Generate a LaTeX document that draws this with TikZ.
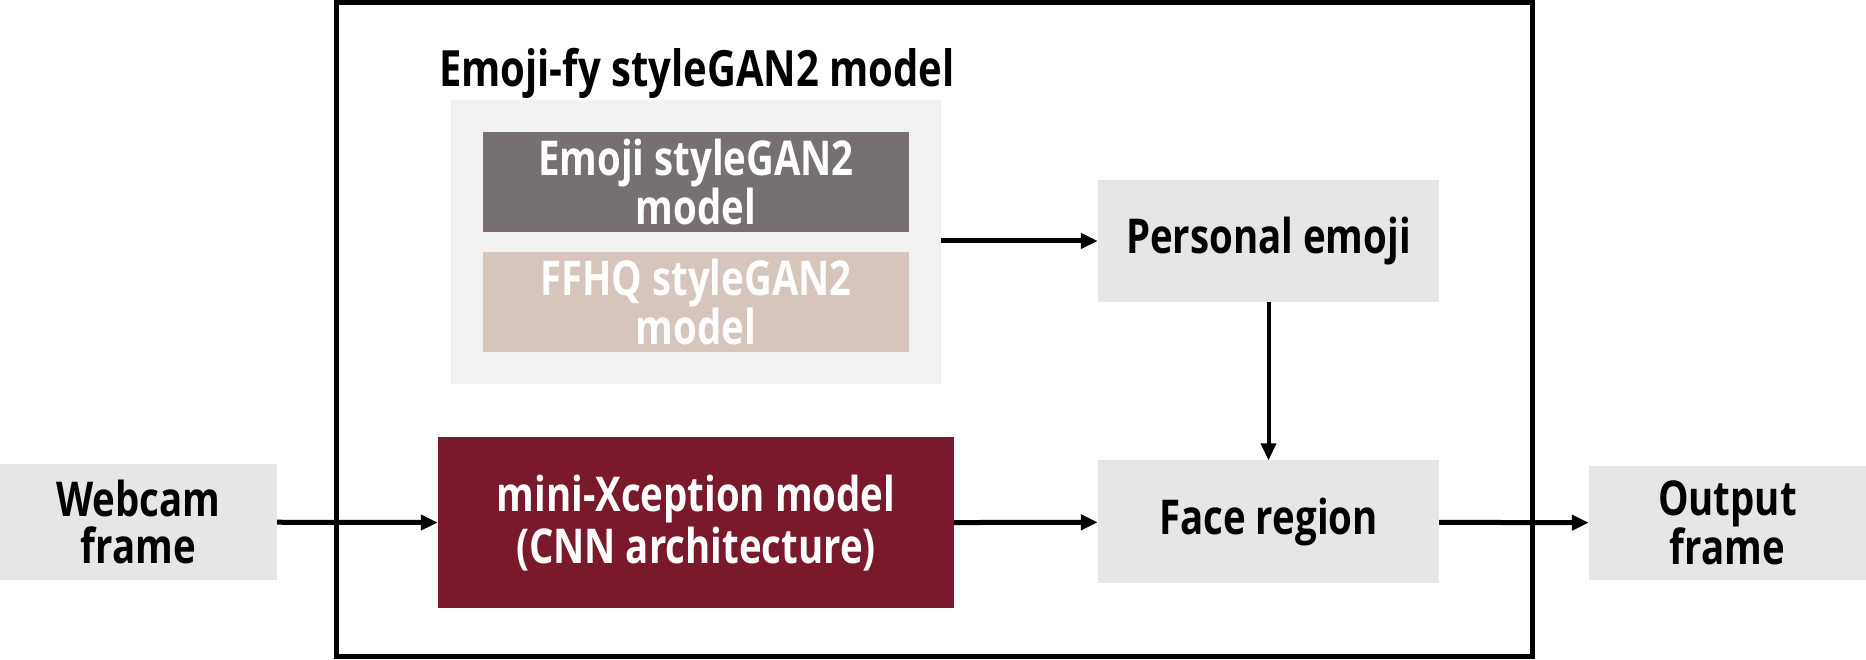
\documentclass[tikz,border=0pt]{standalone}
\usepackage{fontspec}
\setsansfont{Open Sans}[FakeStretch=0.8]
\usetikzlibrary{arrows.meta}
\definecolor{boxgray}{HTML}{E6E6E6}
\definecolor{panelgray}{HTML}{F2F2F2}
\definecolor{emojigray}{HTML}{767170}
\definecolor{ffhqrose}{HTML}{D6C5BD}
\definecolor{xcepred}{HTML}{7B192C}
\tikzset{
  lbl/.style={font=\sffamily\bfseries\fontsize{48}{47}\selectfont, align=center, inner sep=0pt},
  graybox/.style={lbl, fill=boxgray, minimum width=#1},
  graybox/.default=341,
  modelbox/.style={lbl, text=white, minimum width=426, minimum height=100,
    font=\sffamily\bfseries\fontsize{48}{45}\selectfont},
  flow/.style={line width=5, -{Triangle[length=17,width=15]}}
}
\begin{document}
\begin{tikzpicture}[x=1pt,y=1pt]
	\useasboundingbox (0,0) rectangle (1866,660);
	\draw[line width=5] (336,657.5) rectangle (1532,3);
	\node[lbl, font=\sffamily\bfseries\fontsize{50}{54}\selectfont] (title) at (697,587) {Emoji-fy styleGAN2 model};
	\node[fill=panelgray, minimum width=490, minimum height=284, inner sep=0pt] (panel) at (696,418) {};
	\node[modelbox, fill=emojigray] (emoji) at (696,478) {Emoji styleGAN2\\model};
	\node[modelbox, fill=ffhqrose] (ffhq) at (696,358) {FFHQ styleGAN2\\model};
	\node[graybox, minimum height=122] (personal) at (1268.5,419) {Personal emoji};
	\node[graybox, minimum height=123] (face) at (1268.5,138) {Face region};
	\node[lbl, fill=xcepred, text=white, minimum width=516, minimum height=171, font=\sffamily\bfseries\fontsize{48}{52}\selectfont] (xcep) at (696,137) {mini-Xception model\\(CNN architecture)};
	\node[graybox=277, minimum height=116] (webcam) at (138.5,138) {Webcam\\frame};
	\node[graybox=277, minimum height=114] (output) at (1727.5,137) {Output\\frame};
	\draw[flow] (panel.east |- personal) -- (personal.west);
	\draw[flow, line width=4] (personal) -- (face);
	\draw[flow] (webcam) -- (xcep);
	\draw[flow] (xcep) -- (face);
	\draw[flow] (face) -- (output);
\end{tikzpicture}
\end{document}
